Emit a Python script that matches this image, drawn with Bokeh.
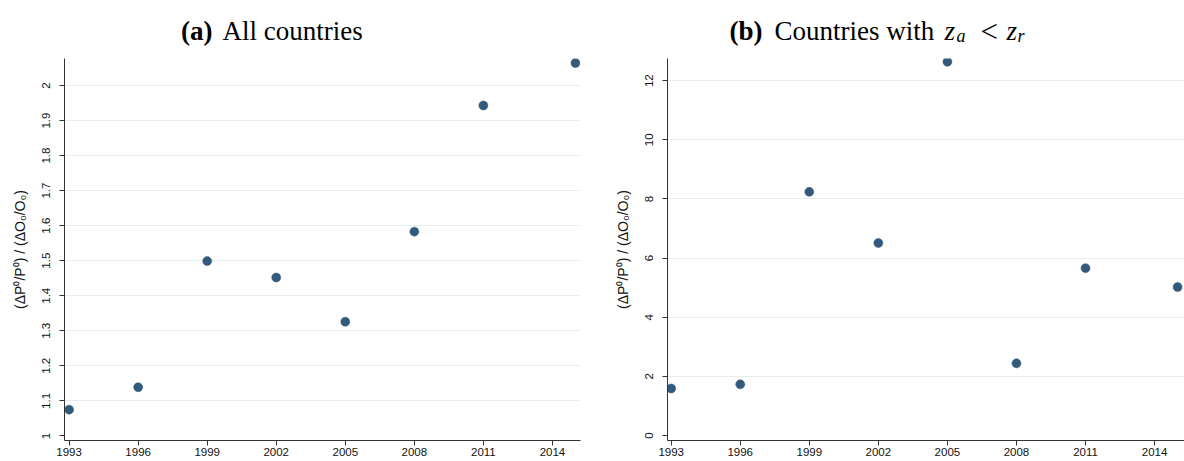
from bokeh.plotting import figure
from bokeh.layouts import row, column
from bokeh.models import Label, FixedTicker, Range1d
from bokeh.embed import file_html
from bokeh.resources import INLINE

# ---------------- data ----------------
years = [1993, 1996, 1999, 2002, 2005, 2008, 2011, 2015]
all_countries = [1.075, 1.139, 1.499, 1.452, 1.326, 1.583, 1.943, 2.064]
za_lt_zr = [1.59, 1.73, 8.24, 6.51, 12.64, 2.44, 5.66, 5.02]

x_ticks = [1993, 1996, 1999, 2002, 2005, 2008, 2011, 2014]
x_tick_labels = ["1993", "1996", "1999", "2002", "2005", "2008", "2011", "2014"]

a_ticks = [1.0, 1.1, 1.2, 1.3, 1.4, 1.5, 1.6, 1.7, 1.8, 1.9, 2.0]
a_tick_labels = ["1", "1.1", "1.2", "1.3", "1.4", "1.5", "1.6", "1.7", "1.8", "1.9", "2"]

b_ticks = [0, 2, 4, 6, 8, 10, 12]
b_tick_labels = ["0", "2", "4", "6", "8", "10", "12"]

y_label = "(ΔP⁰/P⁰) / (ΔO₀/O₀)"

# ---------------- style ----------------
W = 1184
TITLE_H = 58
H = 461 - TITLE_H
BOTTOM = 21
DOT = "#33597b"
GRID = "#e4eeee"
AXIS = "#333333"
SERIF = "Liberation Serif"
SANS = "Liberation Sans"


def panel(width, mleft, mright, xr, yr, yt, ytl, ys):
    p = figure(width=width, height=H, output_backend="svg", toolbar_location=None,
               x_range=Range1d(*xr), y_range=Range1d(*yr),
               min_border_left=mleft, min_border_right=mright,
               min_border_top=0, min_border_bottom=BOTTOM)
    p.outline_line_color = None
    p.background_fill_color = "white"
    p.border_fill_color = "white"

    p.xaxis.ticker = FixedTicker(ticks=x_ticks)
    p.xaxis.major_label_overrides = {t: l for t, l in zip(x_ticks, x_tick_labels)}
    p.yaxis.ticker = FixedTicker(ticks=yt)
    p.yaxis.major_label_overrides = {t: l for t, l in zip(yt, ytl)}
    p.yaxis.major_label_orientation = "vertical"

    for ax in (p.xaxis[0], p.yaxis[0]):
        ax.axis_line_color = AXIS
        ax.axis_line_width = 1
        ax.major_tick_line_color = AXIS
        ax.major_tick_out = 5
        ax.major_tick_in = 0
        ax.minor_tick_line_color = None
        ax.major_label_text_font = SANS
        ax.major_label_text_font_size = "11.5px"
        ax.major_label_text_color = "#111111"
    p.xaxis.major_label_standoff = 2
    p.yaxis.major_label_standoff = 9

    p.yaxis.axis_label = y_label
    p.yaxis.axis_label_text_font = SANS
    p.yaxis.axis_label_text_font_size = "14px"
    p.yaxis.axis_label_text_font_style = "normal"
    p.yaxis.axis_label_text_color = "#111111"
    p.yaxis.axis_label_standoff = 12

    p.xgrid.grid_line_color = None
    p.ygrid.ticker = FixedTicker(ticks=yt[1:])
    p.ygrid.grid_line_color = GRID
    p.ygrid.grid_line_width = 1

    p.scatter(years, ys, size=9, fill_color=DOT, line_color=DOT, line_width=0.5)
    return p


# title band (page pixel coordinates, y measured upward from bottom of band)
t = figure(width=W, height=TITLE_H, output_backend="svg", toolbar_location=None,
           x_range=Range1d(0, W), y_range=Range1d(0, TITLE_H),
           x_axis_location=None, y_axis_location=None,
           min_border_left=0, min_border_right=0, min_border_top=0, min_border_bottom=0)
t.outline_line_color = None
t.xgrid.grid_line_color = None
t.ygrid.grid_line_color = None

BASE = TITLE_H - 30
title_pieces = [
    ("(a)", 212, 0, "27px", "bold", "right", SERIF),
    ("All countries", 222, 0, "27px", "normal", "left", SERIF),
    ("(b)", 762, 0, "27px", "bold", "right", SERIF),
    ("Countries with", 774, 0, "27px", "normal", "left", SERIF),
    ("z", 944, 0, "27px", "italic", "left", SERIF),
    ("a", 956, -5, "18px", "italic", "left", SERIF),
    ("<", 980, -1, "31px", "normal", "left", SERIF),
    ("z", 1006, 0, "27px", "italic", "left", SERIF),
    ("r", 1017, -5, "18px", "italic", "left", SERIF),
]
for text, x, dy, size, style, align, font in title_pieces:
    t.add_layout(Label(x=x, y=BASE + dy, text=text, text_font=font, text_font_size=size,
                       text_font_style=style, text_align=align,
                       text_baseline="alphabetic", text_color="black"))

p1 = panel(586, 64, 6, (1992.80, 2015.22), (0.987, 2.077), a_ticks, a_tick_labels,
           all_countries)
p2 = panel(W - 586, 81, 0, (1992.84, 2015.3), (-0.17, 12.75), b_ticks, b_tick_labels,
           za_lt_zr)

layout = column(t, row(p1, p2))
open("out.html", "w").write(file_html(layout, INLINE))
